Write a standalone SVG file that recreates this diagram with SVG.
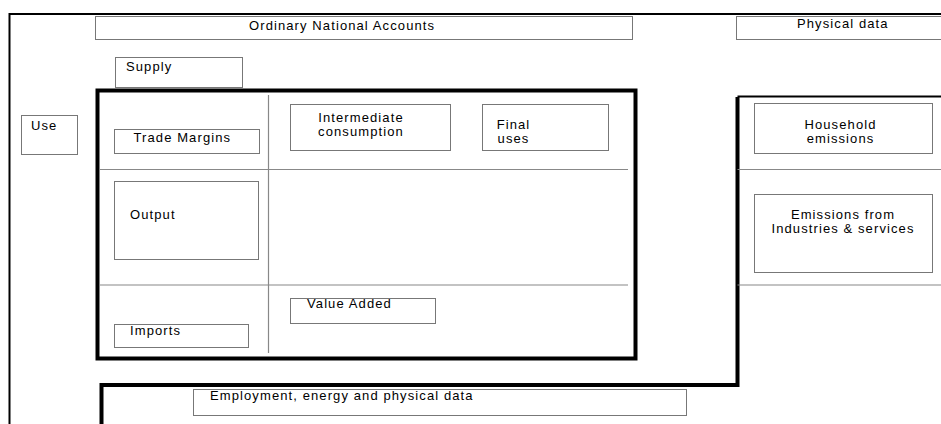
<svg xmlns="http://www.w3.org/2000/svg" width="941" height="424" viewBox="0 0 941 424">
<style>
.bx{fill:#fff;stroke:#777;stroke-width:1}
.dv{fill:none;stroke:#888;stroke-width:1.2}
.tk{fill:none;stroke:#000;stroke-width:4}
.fr{fill:none;stroke:#000;stroke-width:2}
text{font-family:"Liberation Sans",Arial,sans-serif;font-size:13px;letter-spacing:1.1px;fill:#000}
.c{text-anchor:middle}
</style>
<rect width="941" height="424" fill="#fff"/>
<g id="frames">
<path class="fr" d="M9.5,424 V14 H941"/>
<path class="tk" d="M737.5,97 V385 H101.5 V424" stroke-width="3.5"/>
<path class="fr" d="M737.5,96.5 H941"/>
<path class="dv" d="M737.5,169.5 H941 M737.5,285 H941"/>
</g>
<g id="connectors">
<path class="dv" d="M268.5,95 V353 M100,169.5 H628 M100,285 H628"/>
</g>
<g id="main">
<rect class="tk" x="97.5" y="90.5" width="538" height="268"/>
</g>
<g id="ordinary"><rect class="bx" x="95.5" y="16.5" width="537" height="23"/><text x="249" y="29.5">Ordinary National Accounts</text></g>
<g id="physical"><rect class="bx" x="736.5" y="16.5" width="210" height="23"/><text x="797" y="28">Physical data</text></g>
<g id="supply"><rect class="bx" x="115.5" y="57.5" width="127" height="30"/><text x="126" y="70.5">Supply</text></g>
<g id="use"><rect class="bx" x="21.5" y="115.5" width="56" height="39"/><text x="31" y="130">Use</text></g>
<g id="trade"><rect class="bx" x="114.5" y="129.5" width="145" height="24"/><text x="133.5" y="142">Trade Margins</text></g>
<g id="intermediate"><rect class="bx" x="290.5" y="104.5" width="160" height="46"/><text class="c" x="361" y="122">Intermediate</text><text class="c" x="361" y="135.5">consumption</text></g>
<g id="final"><rect class="bx" x="482.5" y="104.5" width="126" height="46"/><text class="c" x="513.5" y="128.5">Final</text><text class="c" x="513.5" y="142.5">uses</text></g>
<g id="output"><rect class="bx" x="114.5" y="181.5" width="144" height="78"/><text x="130" y="219">Output</text></g>
<g id="imports"><rect class="bx" x="114.5" y="324.5" width="134" height="23"/><text x="130" y="335">Imports</text></g>
<g id="valueadded"><rect class="bx" x="290.5" y="298.5" width="145" height="25"/><text x="307" y="308">Value Added</text></g>
<g id="employment"><rect class="bx" x="193.5" y="389.5" width="493" height="26"/><text x="210" y="400">Employment, energy and physical data</text></g>
<g id="household"><rect class="bx" x="754.5" y="103.5" width="178" height="50"/><text class="c" x="840.5" y="129">Household</text><text class="c" x="840.5" y="142.5">emissions</text></g>
<g id="industries"><rect class="bx" x="754.5" y="194.5" width="178" height="78"/><text class="c" x="843" y="218.5">Emissions from</text><text class="c" x="843" y="232.5">Industries &amp; services</text></g>
</svg>
